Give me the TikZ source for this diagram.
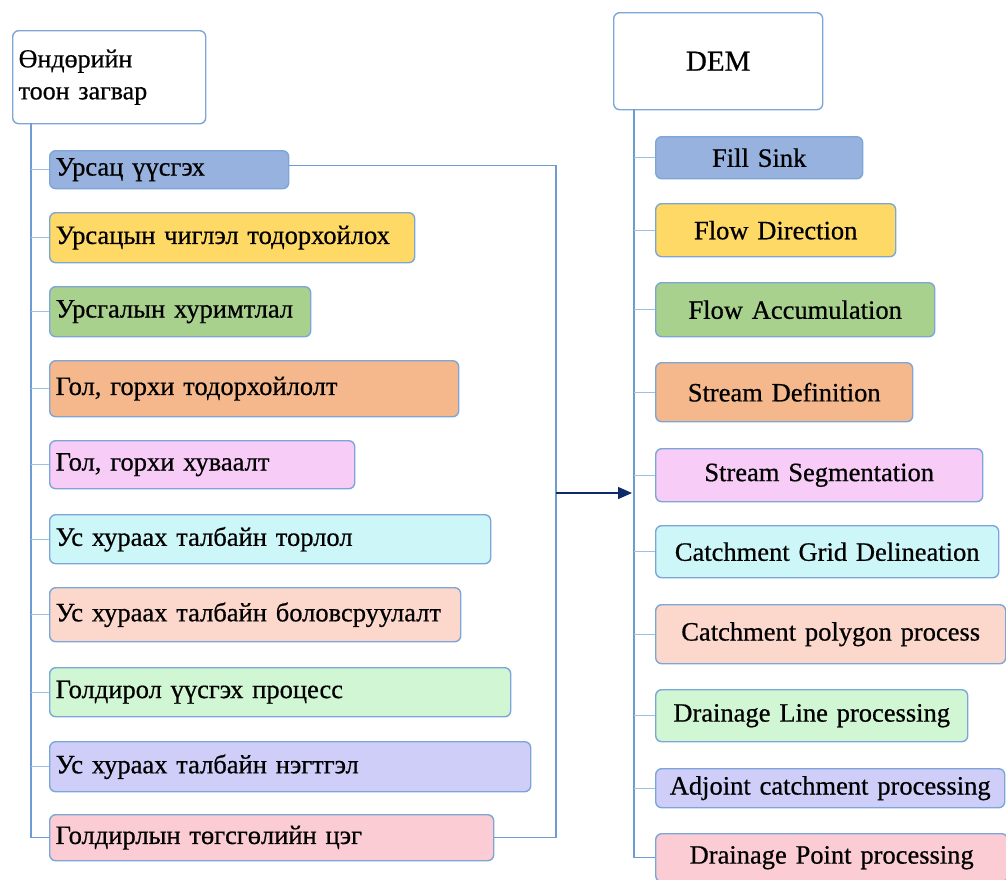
\documentclass[tikz,border=0pt]{standalone}
\usepackage{fontspec}
\setmainfont{Liberation Serif}[FakeBold=0.6]
\usetikzlibrary{arrows.meta}
\definecolor{bordc}{HTML}{7DA6D8}
\definecolor{trunkc}{HTML}{6E9CD2}
\definecolor{branchc}{HTML}{9EC0E2}
\definecolor{navy}{HTML}{0E2A6B}
\definecolor{cA}{HTML}{98B2DF}
\definecolor{cB}{HTML}{FFD966}
\definecolor{cC}{HTML}{A9D18E}
\definecolor{cD}{HTML}{F4B88C}
\definecolor{cE}{HTML}{F7CCF7}
\definecolor{cF}{HTML}{CDF6F8}
\definecolor{cG}{HTML}{FCD8CC}
\definecolor{cH}{HTML}{D0F6D3}
\definecolor{cI}{HTML}{CECEF8}
\definecolor{cJ}{HTML}{FBCCD4}
\tikzset{
  box/.style={draw=bordc, line width=1.4pt, rounded corners=6pt, anchor=north west,
    inner xsep=6pt, inner ysep=0pt, font=\fontsize{26.5}{30}\selectfont},
  lbox/.style={box, align=left},
  rbox/.style={box, align=center},
  trunk/.style={draw=trunkc, line width=1.4pt},
  branch/.style={draw=branchc, line width=1.4pt},
  arr/.style={draw=navy, line width=1.4pt, -{Triangle[length=14pt,width=12pt]}}
}
\newcommand{\lb}[6]{\node[lbox, fill=#2, text width=#4pt-12pt, minimum height=#5pt] (#1) at (49,#3) {#6};}
\newcommand{\rb}[6]{\node[rbox, fill=#2, text width=#4pt-12pt, minimum height=#5pt] (#1) at (655,#3) {#6};}
\begin{document}
\begin{tikzpicture}[x=1pt,y=-1pt]
\useasboundingbox (0,0) rectangle (1006,879);
\clip (0,0) rectangle (1006,879);
% left top
\node[box, fill=white, text width=193pt-12pt, minimum height=93pt, align=left,
  font=\fontsize{26}{32}\selectfont] (ltop) at (12,30) {Өндөрийн\\тоон загвар};
\lb{l1}{cA}{150}{239}{38}{Урсац үүсгэх}
\lb{l2}{cB}{212}{365}{50}{Урсацын чиглэл тодорхойлох}
\lb{l3}{cC}{286}{261}{50}{Урсгалын хуримтлал}
\lb{l4}{cD}{360}{409}{56}{Гол, горхи тодорхойлолт}
\lb{l5}{cE}{440}{305}{48}{Гол, горхи хуваалт}
\lb{l6}{cF}{514}{441}{49}{Ус хураах талбайн торлол}
\lb{l7}{cG}{587}{411}{54}{Ус хураах талбайн боловсруулалт}
\lb{l8}{cH}{667}{461}{49}{Голдирол үүсгэх процесс}
\lb{l9}{cI}{741}{481}{50}{Ус хураах талбайн нэгтгэл}
\lb{l10}{cJ}{814}{444}{46}{Голдирлын төгсгөлийн цэг}
% right top
\node[box, fill=white, text width=209pt-12pt, minimum height=97pt, align=center,
  font=\fontsize{29}{32}\selectfont] (rtop) at (613,12) {DEM};
\rb{r1}{cA}{136}{207}{42}{Fill Sink}
\rb{r2}{cB}{203}{240}{53}{Flow Direction}
\rb{r3}{cC}{282}{279}{54}{Flow Accumulation}
\rb{r4}{cD}{362}{257}{59}{Stream Definition}
\rb{r5}{cE}{448}{327}{53}{Stream Segmentation}
\rb{r6}{cF}{525}{343}{52}{Catchment Grid Delineation}
\rb{r7}{cG}{604}{350}{59}{Catchment polygon process}
\rb{r8}{cH}{689}{312}{52}{Drainage Line processing}
\rb{r9}{cI}{768}{349}{39}{Adjoint catchment processing}
\rb{r10}{cJ}{833}{352}{48}{Drainage Point processing}
% trunks
\coordinate (lt) at (31,123);
\coordinate (rt) at (634,109);
\draw[trunk] (lt) |- (l10.west);
\draw[trunk] (rt) |- (r10.west);
\foreach \i in {1,...,9} {
  \draw[branch] (l\i.west) -- (l\i.west -| lt);
  \draw[branch] (r\i.west) -- (r\i.west -| rt);
}
% cross connector
\coordinate (jn) at (556,493);
\draw[trunk] ([yshift=4pt]l1.east) -| (jn) |- (l10.east);
\draw[arr] (jn) -- ([xshift=-2pt]jn -| rt);
\end{tikzpicture}
\end{document}
